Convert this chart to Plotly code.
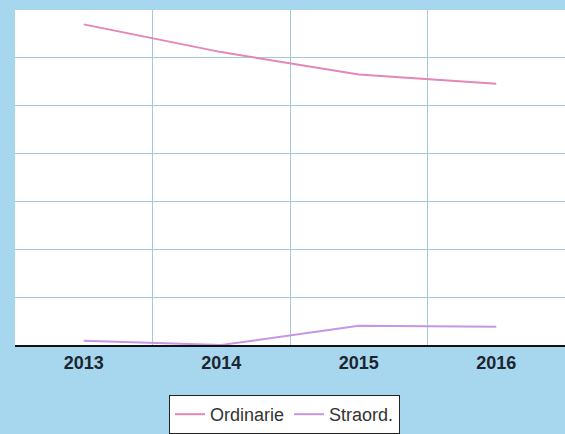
import plotly.graph_objects as go

years = ["2013", "2014", "2015", "2016"]
ordinarie = [67.0, 61.2, 56.5, 54.6]
straord = [0.9, 0.0, 4.0, 3.8]

tick_text = ["<b>%s</b>" % y for y in years]

fig = go.Figure()
fig.add_trace(go.Scatter(x=years, y=ordinarie, mode="lines", name="Ordinarie",
                         line=dict(color="#e486b8", width=2)))
fig.add_trace(go.Scatter(x=years, y=straord, mode="lines", name="Straord.",
                         line=dict(color="#c596e4", width=2)))

fig.update_layout(
    width=565, height=434,
    margin=dict(l=15, r=0, t=10, b=89),
    paper_bgcolor="#a7d7ee",
    plot_bgcolor="#ffffff",
    font=dict(family="Liberation Sans, Arial, sans-serif", color="#1c2630"),
    showlegend=True,
    legend=dict(orientation="h", x=0.49, xanchor="center", y=-0.15, yanchor="top",
                bgcolor="#ffffff", bordercolor="#222222", borderwidth=1,
                font=dict(size=18, color="#333333")),
)
fig.update_xaxes(type="category", tickson="boundaries", range=[-0.5, 3.5],
                 tickvals=years, ticktext=tick_text, tickfont=dict(size=18, color="#1c2630"),
                 showgrid=True, gridcolor="#a4c9d6", gridwidth=1.2,
                 showline=True, linecolor="#111111", linewidth=2, ticks="", zeroline=False)
fig.update_yaxes(range=[0, 70], dtick=10, showticklabels=False, showgrid=True,
                 gridcolor="#a4c9d6", gridwidth=1.2, zeroline=False, ticks="")

fig.write_html("out.html", config={"displayModeBar": False},
               post_script="document.body.style.margin='0';document.body.style.overflow='hidden';document.body.style.background='#a7d7ee';")
